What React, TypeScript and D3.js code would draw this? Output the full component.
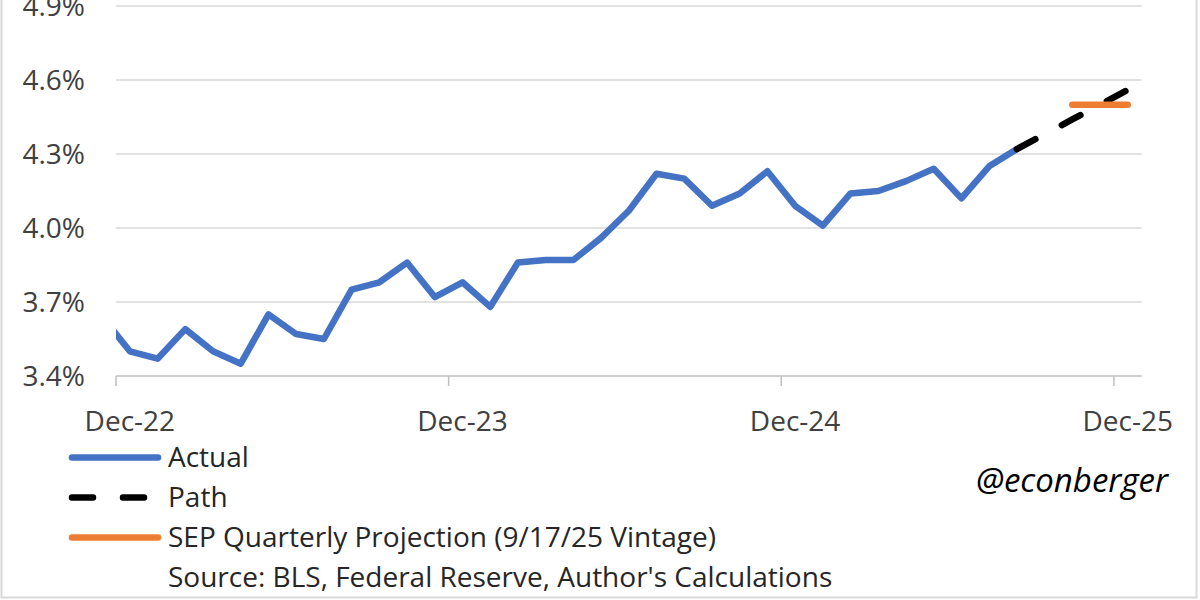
import React, { useEffect } from "react";
import * as d3 from "d3";

// ---- data ----
const months: string[] = [
  "Nov-22", "Dec-22",
  "Jan-23", "Feb-23", "Mar-23", "Apr-23", "May-23", "Jun-23", "Jul-23", "Aug-23", "Sep-23", "Oct-23", "Nov-23", "Dec-23",
  "Jan-24", "Feb-24", "Mar-24", "Apr-24", "May-24", "Jun-24", "Jul-24", "Aug-24", "Sep-24", "Oct-24", "Nov-24", "Dec-24",
  "Jan-25", "Feb-25", "Mar-25", "Apr-25", "May-25", "Jun-25", "Jul-25", "Aug-25", "Sep-25", "Oct-25", "Nov-25", "Dec-25",
];

// Actual: Nov-22 .. Aug-25
const actualValues: number[] = [
  3.64, 3.50,
  3.47, 3.59, 3.50, 3.45, 3.65, 3.57, 3.55, 3.75, 3.78, 3.86, 3.72, 3.78,
  3.68, 3.86, 3.87, 3.87, 3.96, 4.07, 4.22, 4.20, 4.09, 4.14, 4.23, 4.09,
  4.01, 4.14, 4.15, 4.19, 4.24, 4.12, 4.25, 4.32,
];

// Path: Aug-25 .. Dec-25
const pathMonths: string[] = ["Aug-25", "Sep-25", "Oct-25", "Nov-25", "Dec-25"];
const pathValues: number[] = [4.32, 4.38, 4.44, 4.50, 4.56];

// SEP quarterly projection: Oct-25 .. Dec-25
const sepMonths: string[] = ["Oct-25", "Nov-25", "Dec-25"];
const sepValues: number[] = [4.5, 4.5, 4.5];

const yTicks: number[] = [3.4, 3.7, 4.0, 4.3, 4.6, 4.9];
const xTickLabels: string[] = ["Dec-22", "Dec-23", "Dec-24", "Dec-25"];

const legendItems = [
  { label: "Actual", color: "#4472C4", dash: "" },
  { label: "Path", color: "#000000", dash: "21 30" },
  { label: "SEP Quarterly Projection (9/17/25 Vintage)", color: "#ED7D31", dash: "" },
];
const sourceNote = "Source: BLS, Federal Reserve, Author's Calculations";
const handle = "@econberger";

// ---- layout ----
const W = 1200;
const H = 600;
const plotLeft = 116;
const plotRight = 1141.6;
const plotTop = 6;
const plotBottom = 376;
const FONT = "'Open Sans', 'Noto Sans', sans-serif";
const TEXT = "#404040";
const FS = 28;

export default function App() {
  useEffect(() => {
    document.body.style.margin = "0";
  }, []);

  const firstVisible = months.indexOf("Dec-22");
  const lastVisible = months.indexOf("Dec-25");
  const x = d3
    .scaleLinear()
    .domain([firstVisible - 0.5, lastVisible + 0.5])
    .range([plotLeft, plotRight]);
  const y = d3.scaleLinear().domain([3.4, 4.9]).range([plotBottom, plotTop]);

  const line = d3
    .line<[number, number]>()
    .x((d) => x(d[0]))
    .y((d) => y(d[1]));

  const actualPts: [number, number][] = actualValues.map((v, i) => [i, v]);
  const pathPts: [number, number][] = pathValues.map((v, i) => [months.indexOf(pathMonths[i]), v]);
  const sepPts: [number, number][] = sepValues.map((v, i) => [months.indexOf(sepMonths[i]), v]);

  const tickIdx = xTickLabels.map((m) => months.indexOf(m));
  const legendX0 = 72;
  const legendX1 = 158;
  const legendBase = 467;
  const legendStep = 40;

  return (
    <svg
      width={W}
      height={H}
      style={{ position: "absolute", left: 0, top: 0, background: "#fff" }}
      fontFamily={FONT}
    >
      <defs>
        <clipPath id="plotClip">
          <rect x={plotLeft} y={0} width={plotRight - plotLeft + 20} height={plotBottom + 5} />
        </clipPath>
      </defs>
      <rect x={0} y={0} width={W} height={H} fill="#fff" />
      {/* border */}
      <rect x={1.5} y={-10} width={1195} height={607.5} fill="none" stroke="#D9D9D9" strokeWidth={2} />

      {/* gridlines */}
      {yTicks.map((t) => (
        <line
          key={t}
          x1={plotLeft}
          x2={plotRight}
          y1={y(t)}
          y2={y(t)}
          stroke={t === 3.4 ? "#BFBFBF" : "#D9D9D9"}
          strokeWidth={1.5}
        />
      ))}
      {/* x tick marks at category boundaries */}
      {tickIdx.map((i) => (
        <line
          key={"tk" + i}
          x1={x(i - 0.5)}
          x2={x(i - 0.5)}
          y1={plotBottom}
          y2={plotBottom + 10}
          stroke="#BFBFBF"
          strokeWidth={1.5}
        />
      ))}

      {/* y labels */}
      {yTicks.map((t) => (
        <text
          key={"yl" + t}
          x={85}
          y={y(t)}
          dy="0.35em"
          textAnchor="end"
          fontSize={FS}
          fill={TEXT}
        >
          {d3.format(".1f")(t) + "%"}
        </text>
      ))}
      {/* x labels */}
      {tickIdx.map((i, k) => (
        <text key={"xl" + i} x={x(i)} y={431} textAnchor="middle" fontSize={FS} fill={TEXT}>
          {xTickLabels[k]}
        </text>
      ))}

      {/* series */}
      <g clipPath="url(#plotClip)">
        <path
          d={line(actualPts) || ""}
          fill="none"
          stroke="#4472C4"
          strokeWidth={6.5}
          strokeLinejoin="round"
          strokeLinecap="round"
        />
        <path
          d={line(pathPts) || ""}
          fill="none"
          stroke="#000"
          strokeWidth={6.5}
          strokeDasharray="21 30"
          strokeLinecap="round"
        />
        <path
          d={line(sepPts) || ""}
          fill="none"
          stroke="#ED7D31"
          strokeWidth={6.5}
          strokeLinecap="round"
        />
      </g>

      {/* legend */}
      {legendItems.map((it, k) => {
        const base = legendBase + k * legendStep;
        const cy = base - 9.5;
        return (
          <g key={it.label}>
            <line
              x1={legendX0}
              x2={legendX1}
              y1={cy}
              y2={cy}
              stroke={it.color}
              strokeWidth={6.5}
              strokeLinecap="round"
              strokeDasharray={it.dash || undefined}
            />
            <text x={168} y={base} fontSize={FS} fill="#262626">
              {it.label}
            </text>
          </g>
        );
      })}
      <text x={168} y={legendBase + 3 * legendStep} fontSize={FS} fill="#262626">
        {sourceNote}
      </text>

      <text x={1168} y={492} textAnchor="end" fontSize={33} fontStyle="italic" fill="#000">
        {handle}
      </text>
    </svg>
  );
}
